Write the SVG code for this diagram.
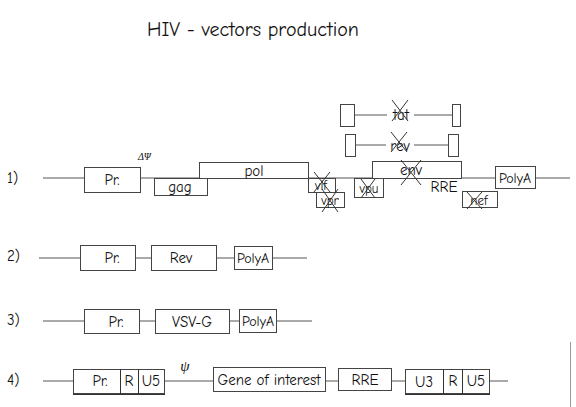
<svg xmlns="http://www.w3.org/2000/svg" width="576" height="407" viewBox="0 0 576 407">
<style>
text{font-family:"Comic Neue","Liberation Sans","DejaVu Sans",sans-serif;fill:#111;}
.t{font-size:20px;}
.l{font-size:15px;text-anchor:middle;dominant-baseline:central;}
.s{font-size:13px;}
.p{font-size:14px;}
.n{font-size:15px;dominant-baseline:central;}
.b{fill:#fff;stroke:#444;stroke-width:1;}
.ln{stroke:#555;stroke-width:1;fill:none;}
.x{stroke:#333;stroke-width:1;fill:none;}
.g{font-family:"Liberation Serif","DejaVu Serif",serif;font-style:italic;}
</style>
<rect width="576" height="407" fill="#fff"/>
<text class="t" x="147" y="36">HIV - vectors production</text>

<g id="connectors">
  <line class="ln" x1="43" y1="178" x2="570" y2="178"/>
  <line class="ln" x1="354" y1="115" x2="387" y2="115"/>
  <line class="ln" x1="414" y1="115" x2="452" y2="115"/>
  <line class="ln" x1="355" y1="145" x2="386" y2="145"/>
  <line class="ln" x1="414" y1="145" x2="448" y2="145"/>
  <line class="ln" x1="39" y1="258" x2="307" y2="258"/>
  <line class="ln" x1="43" y1="321" x2="312" y2="321"/>
  <line class="ln" x1="43" y1="381" x2="508" y2="381"/>
  <line stroke="#999" stroke-width="1" x1="570.5" y1="342" x2="570.5" y2="407"/>
</g>

<g id="labels">
  <text class="n" x="7" y="178">1)</text>
  <text class="n" x="7" y="256">2)</text>
  <text class="n" x="7" y="320">3)</text>
  <text class="n" x="7" y="380">4)</text>
</g>

<g id="row1">
  <g id="r1-pr"><rect class="b" x="84.5" y="167.5" width="56" height="25"/><text class="l" x="112" y="180">Pr.</text></g>
  <g id="r1-psi"><text class="g" x="138" y="160" font-size="10">ΔΨ</text></g>
  <g id="r1-pol"><rect class="b" x="199.5" y="162.5" width="109" height="16"/><text class="l" x="254" y="171">pol</text></g>
  <g id="r1-gag"><rect class="b" x="154.5" y="178.5" width="53" height="17"/><text class="l" x="180" y="187">gag</text></g>
  <g id="r1-env"><rect class="b" x="372.5" y="161.5" width="89" height="17"/><text class="l" x="411" y="170">env</text>
    <path class="x" d="M401 160 L421 185 M421 160 L401 185"/></g>
  <g id="r1-vif"><rect class="b" x="308.5" y="178.5" width="27" height="14"/><text class="l s" x="321" y="185">vif</text>
    <path class="x" d="M314 172 L330 192 M330 172 L314 192"/></g>
  <g id="r1-vpr"><rect class="b" x="316.5" y="192.5" width="28" height="15"/><text class="l s" x="330" y="200">vpr</text>
    <path class="x" d="M322 189 L338 212 M338 189 L322 212"/></g>
  <g id="r1-vpu"><rect class="b" x="354.5" y="178.5" width="29" height="19"/><text class="l s" x="369" y="188">vpu</text>
    <path class="x" d="M361 179 L375 198 M375 179 L361 198"/></g>
  <g id="r1-rre"><text class="l" x="444" y="187">RRE</text></g>
  <g id="r1-nef"><rect class="b" x="462.5" y="191.5" width="35" height="16"/><text class="l s" x="479" y="200">nef</text>
    <path class="x" d="M467 192 L482 209 M482 192 L467 209"/></g>
  <g id="r1-polya"><rect class="b" x="495.5" y="166.5" width="40" height="22"/><text class="l p" x="515" y="178">PolyA</text></g>
  <g id="tat">
    <rect class="b" x="340.5" y="104.5" width="14" height="22"/>
    <rect class="b" x="452.5" y="104.5" width="8" height="22"/>
    <text class="l" x="401" y="115">tat</text>
    <path class="x" d="M392 100 L408 121 M408 100 L392 121"/>
  </g>
  <g id="rev">
    <rect class="b" x="345.5" y="134.5" width="10" height="22"/>
    <rect class="b" x="448.5" y="134.5" width="10" height="22"/>
    <text class="l" x="400" y="146">rev</text>
    <path class="x" d="M391 132 L407 152 M407 132 L391 152"/>
  </g>
</g>

<g id="row2">
  <g id="r2-pr"><rect class="b" x="80.5" y="245.5" width="55" height="25"/><text class="l" x="112" y="258">Pr.</text></g>
  <g id="r2-rev"><rect class="b" x="151.5" y="245.5" width="65" height="25"/><text class="l" x="181" y="258">Rev</text></g>
  <g id="r2-polya"><rect class="b" x="234.5" y="246.5" width="38" height="23"/><text class="l p" x="253" y="258">PolyA</text></g>
</g>

<g id="row3">
  <g id="r3-pr"><rect class="b" x="84.5" y="309.5" width="55" height="24"/><text class="l" x="116" y="322">Pr.</text></g>
  <g id="r3-vsvg"><rect class="b" x="155.5" y="309.5" width="74" height="24"/><text class="l" x="192" y="322">VSV-G</text></g>
  <g id="r3-polya"><rect class="b" x="239.5" y="309.5" width="37" height="23"/><text class="l p" x="258" y="321">PolyA</text></g>
</g>

<g id="row4">
  <g id="r4-ltr5">
    <rect class="b" x="73.5" y="369.5" width="91" height="24"/>
    <line class="x" x1="120.5" y1="369" x2="120.5" y2="394"/>
    <line class="x" x1="138.5" y1="369" x2="138.5" y2="394"/>
    <line stroke="#333" x1="73" y1="394.5" x2="165" y2="394.5"/>
    <text class="l" x="100" y="381">Pr.</text>
    <text class="l" x="129" y="381">R</text>
    <text class="l" x="151" y="381">U5</text>
  </g>
  <g id="r4-psi"><text class="g" x="185" y="371" font-size="15" text-anchor="middle">ψ</text></g>
  <g id="r4-gene"><rect class="b" x="213.5" y="367.5" width="112" height="24"/><text class="l" x="269" y="380">Gene of interest</text></g>
  <g id="r4-rre"><rect class="b" x="338.5" y="368.5" width="53" height="22"/><text class="l" x="365" y="380">RRE</text></g>
  <g id="r4-ltr3">
    <rect class="b" x="405.5" y="369.5" width="84" height="24"/>
    <line class="x" x1="443.5" y1="369" x2="443.5" y2="394"/>
    <line class="x" x1="462.5" y1="369" x2="462.5" y2="394"/>
    <line stroke="#333" x1="405" y1="394.5" x2="490" y2="394.5"/>
    <text class="l" x="424" y="382">U3</text>
    <text class="l" x="453" y="381">R</text>
    <text class="l" x="476" y="381">U5</text>
  </g>
</g>
</svg>
